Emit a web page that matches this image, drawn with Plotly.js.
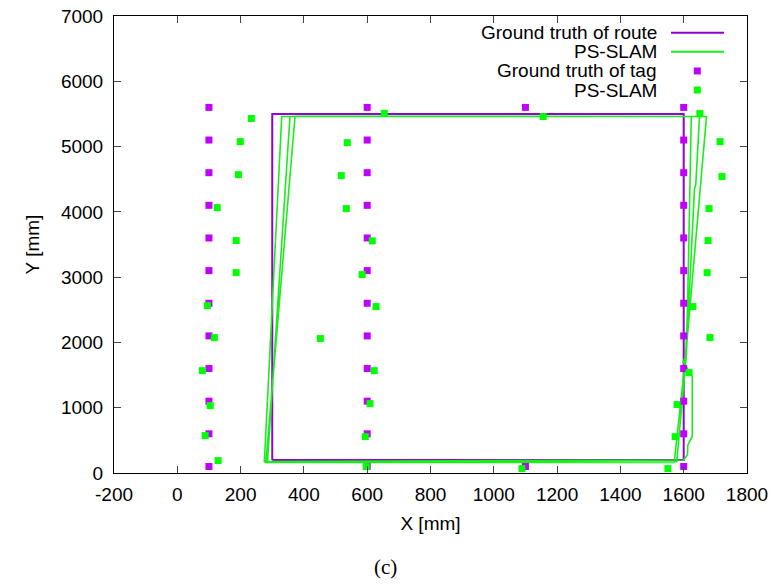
<!DOCTYPE html>
<html>
<head>
<meta charset="utf-8">
<script src="https://cdn.plot.ly/plotly-3.0.1.min.js"></script>
<style>
  html, body { margin: 0; padding: 0; background: #ffffff; }
  #chart { width: 772px; height: 585px; }
</style>
</head>
<body>
<div id="chart"></div>
<script>
// Ground truth of route (rectangle)
const gtRouteX = [300, 300, 1600, 1600, 300];
const gtRouteY = [200, 5500, 5500, 200, 200];

// PS-SLAM estimated route (three laps)
const psRouteX = [275, 330, 1624, 1612, 1606, 1598, 1627, 1627, 1613, 1612, 1600, 285,
                  356, 1650, 1638, 1634, 1608, 1578, 280,
                  372, 1672, 1606, 1570, 275];
const psRouteY = [165, 5460, 5460, 2500, 1780, 1700, 1480, 560, 430, 280, 200, 175,
                  5460, 5460, 4406, 4355, 1780, 172, 165,
                  5465, 5460, 1777, 160, 160];

// Ground truth of tags
const gtTagX = [100,100,100,100,100,100,100,100,100,100,100,100,
                600,600,600,600,600,600,600,600,600,600,600,600,
                1600,1600,1600,1600,1600,1600,1600,1600,1600,1600,1600,1600,
                1100,1100];
const gtTagY = [5600,5100,4600,4100,3600,3100,2600,2100,1600,1100,600,100,
                5600,5100,4600,4100,3600,3100,2600,2100,1600,1100,600,100,
                5600,5100,4600,4100,3600,3100,2600,2100,1600,1100,600,100,
                5600,100];

// PS-SLAM estimated tags
const psTagX = [234,199,193,126,186,186,95,117,79,104,88,129,
                654,537,518,534,616,584,628,452,622,609,594,597,
                1651,1715,1721,1680,1677,1674,1629,1683,1617,1579,1573,1550,
                1156,1089];
const psTagY = [5430,5076,4570,4065,3560,3069,2564,2074,1568,1032,573,190,
                5509,5060,4555,4050,3556,3039,2549,2059,1568,1063,557,98,
                5505,5076,4540,4050,3560,3069,2549,2074,1538,1048,557,67,
                5459,67];

const legendLabels = ["Ground truth of route", "PS-SLAM", "Ground truth of tag", "PS-SLAM"];
const xTickVals = [-200, 0, 200, 400, 600, 800, 1000, 1200, 1400, 1600, 1800];
const yTickVals = [0, 1000, 2000, 3000, 4000, 5000, 6000, 7000];

const purpleLine = '#9400d3';
const purpleMark = '#c000ff';
const greenLine = '#1aee1a';
const greenMark = '#00ff00';
const font = 'Liberation Sans, Arial, Helvetica, sans-serif';

const traces = [
  { x: gtRouteX, y: gtRouteY, mode: 'lines', name: legendLabels[0],
    line: { color: purpleLine, width: 2 }, hoverinfo: 'skip' },
  { x: psRouteX, y: psRouteY, mode: 'lines', name: legendLabels[1],
    line: { color: greenLine, width: 1.6 }, hoverinfo: 'skip' },
  { x: gtTagX, y: gtTagY, mode: 'markers', name: legendLabels[2],
    marker: { symbol: 'square', size: 7, color: purpleMark, line: { width: 0 } } },
  { x: psTagX, y: psTagY, mode: 'markers', name: legendLabels[3],
    marker: { symbol: 'square', size: 7, color: greenMark, line: { width: 0 } } }
];

// legend drawn gnuplot-style (text right-aligned, sample on the right)
const rowsY = [0.9635, 0.922, 0.8797, 0.838];
const textRight = 0.8605;
const annotations = legendLabels.map((t, i) => ({
  xref: 'paper', yref: 'paper', x: textRight, y: rowsY[i],
  xanchor: 'right', yanchor: 'middle', text: t, showarrow: false,
  font: { family: font, size: 19, color: '#000' }
}));
annotations.push({
  xref: 'paper', yref: 'paper', x: 0.429, y: -0.205,
  xanchor: 'center', yanchor: 'middle', text: '(c)', showarrow: false,
  font: { family: 'Liberation Serif, DejaVu Serif, serif', size: 21, color: '#000' }
});

const sq = 7 / 457, sqx = 7 / 633;
const shapes = [
  { type: 'line', xref: 'paper', yref: 'paper', x0: 0.88, x1: 0.9637, y0: rowsY[0], y1: rowsY[0],
    line: { color: purpleLine, width: 2 } },
  { type: 'line', xref: 'paper', yref: 'paper', x0: 0.88, x1: 0.9637, y0: rowsY[1], y1: rowsY[1],
    line: { color: greenLine, width: 2 } },
  { type: 'rect', xref: 'paper', yref: 'paper', x0: 0.9215 - sqx / 2, x1: 0.9215 + sqx / 2,
    y0: rowsY[2] - sq / 2, y1: rowsY[2] + sq / 2, fillcolor: purpleMark, line: { width: 0 } },
  { type: 'rect', xref: 'paper', yref: 'paper', x0: 0.9215 - sqx / 2, x1: 0.9215 + sqx / 2,
    y0: rowsY[3] - sq / 2, y1: rowsY[3] + sq / 2, fillcolor: greenMark, line: { width: 0 } }
];

const axisCommon = {
  showgrid: false, zeroline: false, showline: true, linecolor: '#000', linewidth: 1,
  mirror: 'ticks', ticks: 'inside', ticklen: 7, tickcolor: '#444', tickwidth: 1,
  tickfont: { family: font, size: 19, color: '#000' }
};

const layout = {
  width: 772, height: 585,
  margin: { l: 114, r: 25, t: 16, b: 112 },
  paper_bgcolor: '#fff', plot_bgcolor: '#fff',
  showlegend: false,
  xaxis: Object.assign({}, axisCommon, {
    range: [-200, 1800], tickvals: xTickVals, ticktext: xTickVals.map(String),
    ticklabelstandoff: 4,
    title: { text: 'X [mm]', font: { family: font, size: 19, color: '#000' }, standoff: 12 }
  }),
  yaxis: Object.assign({}, axisCommon, {
    range: [0, 7000], tickvals: yTickVals, ticktext: yTickVals.map(String),
    ticklabelstandoff: 6,
    title: { text: 'Y [mm]', font: { family: font, size: 19, color: '#000' }, standoff: 16 }
  }),
  annotations: annotations,
  shapes: shapes
};

Plotly.newPlot('chart', traces, layout, { staticPlot: true, displayModeBar: false });
</script>
</body>
</html>
